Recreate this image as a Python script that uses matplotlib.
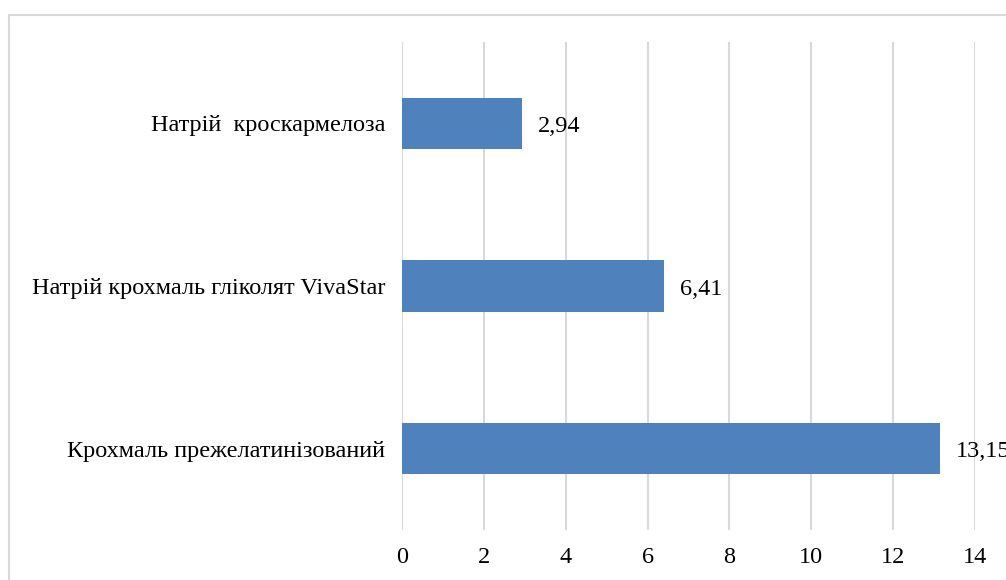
import matplotlib.pyplot as plt
from matplotlib.patches import Rectangle

plt.rcParams['font.family'] = ['Liberation Serif', 'DejaVu Serif']

# data (bottom to top)
categories = ['Крохмаль прежелатинізований',
              'Натрій крохмаль гліколят VivaStar',
              'Натрій  кроскармелоза']
values = [13.15, 6.41, 2.94]
labels = ['13,15', '6,41', '2,94']
xticks = [0, 2, 4, 6, 8, 10, 12, 14]

fs = 17.5

fig = plt.figure(figsize=(10.06, 5.8), dpi=100)
ax = fig.add_axes([402/1006, 50/580, 573/1006, 488/580])

# outer chart border (cropped by the image edge, like in the source)
fig.patches.append(Rectangle((8.5/1006, -0.1), 1.2, (580-14.5)/580 + 0.1,
                             transform=fig.transFigure, fill=False,
                             edgecolor='#d9d9d9', linewidth=1.5))

y = range(len(categories))
bars = ax.barh(y, values, height=0.315, color='#4f81bd', zorder=3)
for b, lab in zip(bars, labels):
    ax.text(b.get_width() + 0.38, b.get_y() + b.get_height()/2 - 0.02, lab,
            va='center', ha='left', fontsize=fs, color='black', clip_on=False)

ax.set_xlim(0, 14)
ax.set_ylim(-0.5, 2.5)
ax.set_xticks(xticks)
ax.set_xticklabels([str(t) for t in xticks], fontsize=fs)
ax.set_yticks(list(y))
ax.set_yticklabels(categories, fontsize=fs)
ax.tick_params(axis='both', length=0)
ax.tick_params(axis='x', pad=12)
ax.tick_params(axis='y', pad=12)
ax.grid(axis='x', color='#d9d9d9', linewidth=1.5, zorder=0)
for s in ax.spines.values():
    s.set_visible(False)

fig.savefig('out.png', dpi=100)
